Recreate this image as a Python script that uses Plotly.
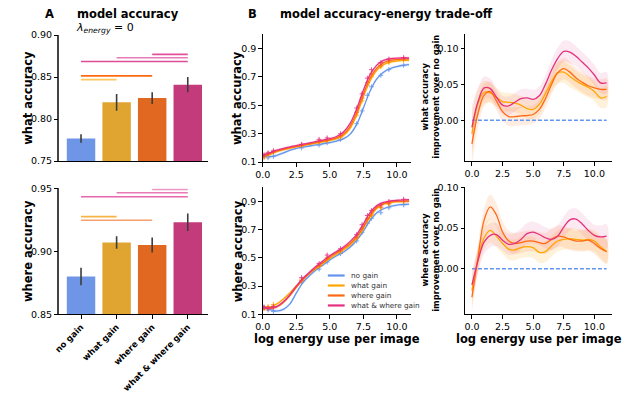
import plotly.graph_objects as go

W, H = 624, 393
FONT = "DejaVu Sans"

# ---------------- data ----------------
groups = ["no gain", "what gain", "where gain", "what & where gain"]
bar_what = [0.777, 0.820, 0.825, 0.841]
bar_what_err = [0.005, 0.010, 0.007, 0.009]
bar_where = [0.880, 0.907, 0.905, 0.923]
bar_where_err = [0.007, 0.005, 0.006, 0.007]

sig_pairs = [[2, 3], [1, 3], [0, 3], [0, 2], [0, 1]]
sig_what_levels = [0.877, 0.873, 0.8685, 0.8515, 0.847]
sig_where_levels = [0.949, 0.9464, 0.9433, 0.9246, 0.9275]

# accuracy vs log energy (smoothed curves)
x_e = [0, 0.5, 1, 1.5, 2, 2.5, 3, 3.5, 4, 4.5, 5, 5.5, 6, 6.5, 7, 7.5, 8, 8.5, 9, 9.5, 10, 10.5, 10.9]
what_no = [0.145, 0.138, 0.145, 0.163, 0.182, 0.196, 0.205, 0.213, 0.221, 0.229, 0.237, 0.248, 0.263, 0.295, 0.365, 0.480, 0.600, 0.685, 0.732, 0.758, 0.772, 0.781, 0.785]
what_what = [0.140, 0.152, 0.172, 0.186, 0.197, 0.207, 0.216, 0.225, 0.234, 0.243, 0.252, 0.263, 0.285, 0.335, 0.430, 0.560, 0.670, 0.745, 0.785, 0.803, 0.811, 0.815, 0.816]
what_where = [0.142, 0.158, 0.176, 0.190, 0.201, 0.211, 0.220, 0.229, 0.238, 0.247, 0.257, 0.270, 0.295, 0.350, 0.450, 0.580, 0.690, 0.760, 0.798, 0.815, 0.822, 0.825, 0.826]
what_ww = [0.150, 0.165, 0.182, 0.195, 0.206, 0.216, 0.226, 0.235, 0.245, 0.255, 0.265, 0.280, 0.310, 0.370, 0.475, 0.605, 0.715, 0.782, 0.815, 0.827, 0.831, 0.832, 0.832]

where_no = [0.150, 0.135, 0.123, 0.133, 0.170, 0.250, 0.325, 0.375, 0.415, 0.450, 0.485, 0.515, 0.540, 0.575, 0.625, 0.690, 0.765, 0.820, 0.848, 0.865, 0.874, 0.879, 0.881]
where_what = [0.140, 0.150, 0.170, 0.205, 0.250, 0.300, 0.345, 0.390, 0.425, 0.460, 0.495, 0.525, 0.555, 0.590, 0.640, 0.710, 0.790, 0.850, 0.880, 0.892, 0.897, 0.899, 0.900]
where_where = [0.145, 0.140, 0.150, 0.180, 0.230, 0.290, 0.345, 0.392, 0.432, 0.468, 0.505, 0.535, 0.565, 0.600, 0.650, 0.720, 0.800, 0.858, 0.885, 0.896, 0.900, 0.902, 0.903]
where_ww = [0.148, 0.145, 0.152, 0.185, 0.235, 0.300, 0.355, 0.400, 0.442, 0.480, 0.515, 0.545, 0.575, 0.615, 0.665, 0.740, 0.820, 0.870, 0.893, 0.903, 0.908, 0.911, 0.912]
band_mid = [0.015, 0.013, 0.012, 0.011, 0.010, 0.010, 0.010, 0.010, 0.010, 0.010, 0.010, 0.010, 0.011, 0.012, 0.013, 0.014, 0.013, 0.012, 0.011, 0.010, 0.010, 0.010, 0.011]

# individual model points
x_m = [0.1, 0.4, 0.8, 2.9, 4.2, 4.8, 5.8, 7.0, 7.4, 7.8, 8.1, 8.8, 9.4, 10.5]
what_no_m = [0.14, 0.13, 0.14, 0.20, 0.22, 0.235, 0.26, 0.37, 0.46, 0.57, 0.63, 0.71, 0.75, 0.78]
what_what_m = [0.13, 0.15, 0.17, 0.215, 0.24, 0.25, 0.275, 0.43, 0.53, 0.64, 0.70, 0.77, 0.80, 0.815]
what_where_m = [0.14, 0.16, 0.175, 0.22, 0.245, 0.255, 0.285, 0.45, 0.55, 0.66, 0.72, 0.78, 0.81, 0.825]
what_ww_m = [0.15, 0.165, 0.18, 0.225, 0.26, 0.27, 0.30, 0.48, 0.58, 0.69, 0.75, 0.80, 0.825, 0.835]
where_no_m = [0.15, 0.13, 0.12, 0.33, 0.42, 0.47, 0.53, 0.62, 0.68, 0.745, 0.78, 0.82, 0.855, 0.875]
where_what_m = [0.14, 0.155, 0.17, 0.35, 0.44, 0.49, 0.545, 0.64, 0.70, 0.77, 0.80, 0.855, 0.88, 0.90]
where_where_m = [0.145, 0.14, 0.15, 0.34, 0.445, 0.50, 0.55, 0.645, 0.71, 0.78, 0.81, 0.86, 0.885, 0.90]
where_ww_m = [0.15, 0.145, 0.155, 0.36, 0.46, 0.52, 0.565, 0.665, 0.735, 0.80, 0.835, 0.875, 0.90, 0.915]

# improvement over no gain
x_i = [0, 0.5, 1, 1.5, 2, 2.5, 3, 3.5, 4, 4.5, 5, 5.5, 6, 6.5, 7, 7.5, 8, 8.5, 9, 9.5, 10, 10.5, 11]
x_base = [0.0, 11.0]
base_imp = [0.0, 0.0]
imp_what_what = [-0.019, 0.024, 0.039, 0.038, 0.032, 0.026, 0.025, 0.024, 0.021, 0.016, 0.015, 0.022, 0.037, 0.054, 0.066, 0.067, 0.061, 0.055, 0.050, 0.046, 0.040, 0.031, 0.033]
imp_what_where = [-0.033, 0.010, 0.035, 0.040, 0.027, 0.012, 0.005, 0.005, 0.006, 0.0065, 0.008, 0.015, 0.030, 0.050, 0.066, 0.072, 0.067, 0.059, 0.053, 0.048, 0.045, 0.043, 0.043]
imp_what_ww = [-0.010, 0.026, 0.045, 0.044, 0.032, 0.021, 0.020, 0.025, 0.030, 0.031, 0.029, 0.034, 0.050, 0.070, 0.086, 0.096, 0.095, 0.089, 0.081, 0.073, 0.063, 0.052, 0.052]
band_imp_what = [0.030, 0.020, 0.016, 0.014, 0.013, 0.013, 0.013, 0.013, 0.013, 0.013, 0.013, 0.013, 0.013, 0.014, 0.015, 0.015, 0.015, 0.014, 0.014, 0.014, 0.014, 0.014, 0.015]

imp_where_what = [-0.027, 0.012, 0.038, 0.047, 0.040, 0.031, 0.024, 0.023, 0.026, 0.027, 0.026, 0.020, 0.021, 0.028, 0.034, 0.036, 0.037, 0.036, 0.035, 0.036, 0.034, 0.027, 0.021]
imp_where_where = [-0.035, 0.014, 0.060, 0.076, 0.066, 0.045, 0.034, 0.031, 0.032, 0.034, 0.034, 0.032, 0.031, 0.036, 0.040, 0.039, 0.036, 0.034, 0.034, 0.035, 0.031, 0.025, 0.021]
imp_where_ww = [-0.020, 0.010, 0.033, 0.041, 0.042, 0.035, 0.030, 0.031, 0.036, 0.043, 0.045, 0.042, 0.038, 0.036, 0.040, 0.051, 0.060, 0.061, 0.055, 0.047, 0.041, 0.039, 0.040]
band_imp_where = [0.018, 0.015, 0.015, 0.015, 0.014, 0.013, 0.013, 0.013, 0.013, 0.013, 0.013, 0.013, 0.013, 0.013, 0.013, 0.013, 0.013, 0.013, 0.013, 0.013, 0.013, 0.014, 0.015]

# ---------------- styles ----------------
line_colors = ["#6495ED", "#FFA500", "#FF6A13", "#E5307F"]
band_colors = ["rgba(100,149,237,0.15)", "rgba(255,165,0,0.14)", "rgba(255,106,19,0.12)", "rgba(229,48,127,0.10)"]
bar_colors = ["#6e95e6", "#e0a530", "#e06820", "#c43b7b"]
sig_what_colors = ["#e24f9c", "#e77cb7", "#de4c98", "#ff6a10", "#ffc75e"]
sig_where_colors = ["#ec93c4", "#e97ab6", "#e866ab", "#f5a06e", "#f6b445"]


def fx(p):
    return p / W


def fy(p):
    return 1 - p / H


fig = go.Figure()

# ---- panel A bars ----
for ax_i, (vals, errs, levels, scol) in enumerate(
        [(bar_what, bar_what_err, sig_what_levels, sig_what_colors),
         (bar_where, bar_where_err, sig_where_levels, sig_where_colors)]):
    xa = "x" if ax_i == 0 else "x2"
    ya = "y" if ax_i == 0 else "y2"
    fig.add_trace(go.Bar(x=list(range(len(groups))), y=vals, width=0.8,
                         marker=dict(color=bar_colors, line=dict(width=0)),
                         error_y=dict(type="data", array=errs, thickness=1.6, width=0, color="#3d3d3d"),
                         xaxis=xa, yaxis=ya, hoverinfo="skip"))
    for pair, lev, c in zip(sig_pairs, levels, scol):
        fig.add_trace(go.Scatter(x=pair, y=[lev, lev], mode="lines",
                                 line=dict(color=c, width=1.6),
                                 xaxis=xa, yaxis=ya, hoverinfo="skip"))

# ---- panel B accuracy curves ----
mid_sets = [
    ("x3", "y3", [what_no, what_what, what_where, what_ww], [what_no_m, what_what_m, what_where_m, what_ww_m]),
    ("x4", "y4", [where_no, where_what, where_where, where_ww], [where_no_m, where_what_m, where_where_m, where_ww_m]),
]
for xa, ya, curves, pts in mid_sets:
    for k, (cv, pt) in enumerate(zip(curves, pts)):
        up = [v + b for v, b in zip(cv, band_mid)]
        lo = [v - b for v, b in zip(cv, band_mid)]
        fig.add_trace(go.Scatter(x=x_e + x_e[::-1], y=up + lo[::-1], fill="toself",
                                 fillcolor=band_colors[k], line=dict(width=0, shape="spline"),
                                 mode="lines", xaxis=xa, yaxis=ya, hoverinfo="skip"))
    for k, (cv, pt) in enumerate(zip(curves, pts)):
        fig.add_trace(go.Scatter(x=x_m, y=pt, mode="markers",
                                 marker=dict(symbol="cross-thin", size=3.5, line=dict(width=1, color=line_colors[k])),
                                 error_y=dict(type="constant", value=0.01, thickness=0.8, width=0, color=line_colors[k]),
                                 opacity=0.8, xaxis=xa, yaxis=ya, hoverinfo="skip"))
        fig.add_trace(go.Scatter(x=x_e, y=cv, mode="lines",
                                 line=dict(color=line_colors[k], width=1.3, shape="spline", smoothing=1.0),
                                 xaxis=xa, yaxis=ya, hoverinfo="skip"))

# ---- improvement plots ----
imp_sets = [
    ("x5", "y5", [imp_what_what, imp_what_where, imp_what_ww], band_imp_what),
    ("x6", "y6", [imp_where_what, imp_where_where, imp_where_ww], band_imp_where),
]
for xa, ya, curves, band in imp_sets:
    for k, cv in enumerate(curves):
        up = [v + b for v, b in zip(cv, band)]
        lo = [v - b for v, b in zip(cv, band)]
        fig.add_trace(go.Scatter(x=x_i + x_i[::-1], y=up + lo[::-1], fill="toself",
                                 fillcolor=band_colors[k + 1], line=dict(width=0, shape="spline"),
                                 mode="lines", xaxis=xa, yaxis=ya, hoverinfo="skip"))
    fig.add_trace(go.Scatter(x=x_base, y=base_imp, mode="lines",
                             line=dict(color=line_colors[0], width=1.4, dash="4px,2px"),
                             xaxis=xa, yaxis=ya, hoverinfo="skip"))
    for k, cv in enumerate(curves):
        fig.add_trace(go.Scatter(x=x_i, y=cv, mode="lines",
                                 line=dict(color=line_colors[k + 1], width=1.3, shape="spline", smoothing=1.0),
                                 xaxis=xa, yaxis=ya, hoverinfo="skip"))


# ---------------- axes ----------------
def axis(domain, rng, anchor, **kw):
    d = dict(domain=domain, range=rng, anchor=anchor, showline=True, linecolor="black", linewidth=1,
             ticks="outside", ticklen=3.5, tickwidth=1, tickcolor="black", showgrid=False, zeroline=False,
             tickfont=dict(family=FONT, size=9.5, color="black"))
    d.update(kw)
    return d


A_x = [fx(52), fx(203)]
B_x = [fx(258), fx(408)]
C_x = [fx(463), fx(612)]
top_y = [fy(160), fy(30)]
bot_y = [fy(318), fy(188)]
mtop_y = [fy(161), fy(29)]
mbot_y = [fy(318), fy(187)]
rtop_y = [fy(160), fy(29)]
rbot_y = [fy(318), fy(187)]

e_ticks = [0, 2.5, 5, 7.5, 10]
e_text = ["0.0", "2.5", "5.0", "7.5", "10.0"]

fig.update_layout(
    width=W, height=H, margin=dict(l=0, r=0, t=0, b=0),
    paper_bgcolor="white", plot_bgcolor="white", showlegend=False,
    font=dict(family=FONT, color="black"),
    xaxis=axis(A_x, [-0.61, 3.58], "y", tickvals=[0, 1, 2, 3], showticklabels=False, ticks=""),
    yaxis=axis(top_y, [0.75, 0.90], "x", tickvals=[0.75, 0.80, 0.85, 0.90], ticktext=["0.75", "0.80", "0.85", "0.90"],
               linecolor="#444", linewidth=1.5),
    xaxis2=axis(A_x, [-0.61, 3.58], "y2", tickvals=[0, 1, 2, 3], ticktext=groups, tickangle=-45,
                tickfont=dict(family=FONT, size=8.5, color="black", weight="bold")),
    yaxis2=axis(bot_y, [0.85, 0.95], "x2", tickvals=[0.85, 0.90, 0.95], ticktext=["0.85", "0.90", "0.95"],
                linecolor="#444", linewidth=1.5),
    xaxis3=axis(B_x, [0, 11.03], "y3", tickvals=e_ticks, ticktext=e_text),
    yaxis3=axis(mtop_y, [0.1, 1.0], "x3", tickvals=[0.1, 0.3, 0.5, 0.7, 0.9], ticktext=["0.1", "0.3", "0.5", "0.7", "0.9"]),
    xaxis4=axis(B_x, [0, 11.03], "y4", tickvals=e_ticks, ticktext=e_text),
    yaxis4=axis(mbot_y, [0.1, 1.0], "x4", tickvals=[0.1, 0.3, 0.5, 0.7, 0.9], ticktext=["0.1", "0.3", "0.5", "0.7", "0.9"]),
    xaxis5=axis(C_x, [-0.56, 11.45], "y5", tickvals=e_ticks, ticktext=e_text),
    yaxis5=axis(rtop_y, [-0.057, 0.12], "x5", tickvals=[0.0, 0.05, 0.10], ticktext=["0.00", "0.05", "0.10"]),
    xaxis6=axis(C_x, [-0.56, 11.45], "y6", tickvals=e_ticks, ticktext=e_text),
    yaxis6=axis(rbot_y, [-0.056, 0.10], "x6", tickvals=[0.0, 0.05, 0.10], ticktext=["0.00", "0.05", "0.10"]),
)

# ---------------- text ----------------
ann = []


def text(x, y, s, size, bold=False, angle=0, xanchor="center", color="black"):
    ann.append(dict(x=fx(x), y=fy(y), xref="paper", yref="paper", text=s, showarrow=False,
                    textangle=angle, xanchor=xanchor, yanchor="middle",
                    font=dict(family=FONT, size=size, color=color, weight="bold" if bold else "normal")))


text(42, 8, "A", 11.5, bold=True)
text(68, 8, "model accuracy", 11.5, bold=True, xanchor="left")
text(67, 23, "<i>λ</i><sub><i>energy</i></sub> = 0", 11, xanchor="left")
text(248, 8, "B", 11.5, bold=True)
text(273, 8, "model accuracy-energy trade-off", 11.5, bold=True, xanchor="left")

text(20, 95, "what accuracy", 11.5, bold=True, angle=-90)
text(21, 253, "where accuracy", 11.5, bold=True, angle=-90)
text(232, 95, "what accuracy", 11.5, bold=True, angle=-90)
text(233, 253, "where accuracy", 11.5, bold=True, angle=-90)
text(428, 94, "what accuracy<br>improvement over no gain", 8.3, bold=True, angle=-90)
text(428, 252, "where accuracy<br>improvement over no gain", 8.3, bold=True, angle=-90)
text(333, 343, "log energy use per image", 11.5, bold=True)
text(538, 343, "log energy use per image", 11.5, bold=True)

# legend (drawn manually to keep matplotlib-like compact spacing)
shapes = []
for i, (g, c) in enumerate(zip(groups, line_colors)):
    yy = 278 + i * 10.3
    shapes.append(dict(type="line", xref="paper", yref="paper", x0=fx(324), x1=fx(341), y0=fy(yy), y1=fy(yy),
                       line=dict(color=c, width=2.2)))
    text(345, yy, g, 7.3, xanchor="left", color="#333")

fig.update_layout(annotations=ann, shapes=shapes)
fig.write_html("out.html")
